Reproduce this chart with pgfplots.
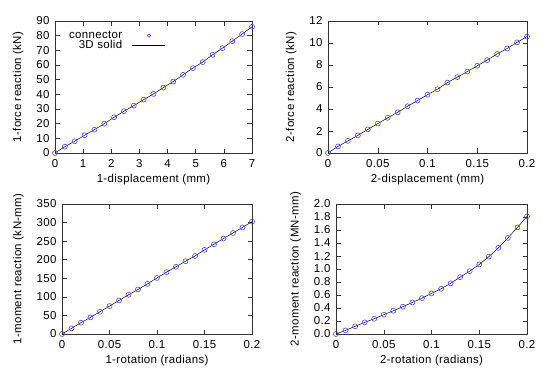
\documentclass[border=0pt]{standalone}
\usepackage{fontspec}
\setmainfont[LetterSpace=3]{Liberation Sans}
\usepackage{pgfplots}
\usepackage{pgfplotstable}
\pgfplotsset{compat=1.18}
\definecolor{mblue}{RGB}{70,70,255}

\pgfplotstableread{
x y
0 0
0.35 4.3
0.7 8.0
1.05 12.1
1.4 15.9
1.75 20.0
2.1 24.4
2.45 28.5
2.8 32.3
3.15 36.4
3.5 40.3
3.85 44.6
4.2 48.7
4.55 53.3
4.9 57.9
5.25 62.0
5.6 67.0
5.95 71.5
6.3 76.3
6.65 81.1
7.0 86.1
}\tabA

\pgfplotstableread{
x y
0 0
0.01 0.6
0.02 1.1
0.03 1.6
0.04 2.15
0.05 2.67
0.06 3.2
0.07 3.7
0.08 4.25
0.09 4.77
0.10 5.3
0.11 5.8
0.12 6.4
0.13 6.9
0.14 7.4
0.15 7.93
0.16 8.45
0.17 9.0
0.18 9.5
0.19 10.06
0.20 10.58
}\tabB

\pgfplotstableread{
x y
0 0
0.01 15.2
0.02 30.4
0.03 44.8
0.04 60.0
0.05 75.2
0.06 90.4
0.07 105.6
0.08 120.0
0.09 135.0
0.10 151.0
0.11 166.5
0.12 181.0
0.13 196.0
0.14 210.0
0.15 226.5
0.16 241.7
0.17 257.0
0.18 272.0
0.19 287.0
0.20 302.6
}\tabC

\pgfplotstableread{
x y
0 0
0.01 0.056
0.02 0.118
0.03 0.179
0.04 0.235
0.05 0.297
0.06 0.358
0.07 0.42
0.08 0.486
0.09 0.552
0.10 0.624
0.11 0.696
0.12 0.78
0.13 0.875
0.14 0.967
0.15 1.07
0.16 1.19
0.17 1.325
0.18 1.478
0.19 1.64
0.20 1.81
}\tabD

\newcommand{\gpfont}{\fontsize{11.5}{13}\selectfont}
\pgfplotsset{
  gp/.style={
    scale only axis,
    axis line style={black!80, line width=0.6bp},
    every tick/.style={black!80, line width=0.5bp},
    major tick length=4.5bp,
    tick align=inside,
    xtick pos=both, ytick pos=both,
    minor tick num=0,
    /pgf/number format/assume math mode=true,
    scaled ticks=false,
    tick label style={font=\gpfont},
    label style={font=\gpfont},
    xticklabel style={/pgf/number format/fixed, yshift=-3bp},
    yticklabel style={/pgf/number format/fixed, xshift=-2bp},
    xlabel style={yshift=0bp},
    ylabel style={yshift=6bp},
  },
  mk/.style={only marks, mark=o, mark size=2.5bp, mark options={draw=mblue, line width=0.6bp}},
  ln/.style={black, line width=0.5bp, no marks},
  mkleg/.style={legend image code/.code={\draw[mark repeat=2,mark phase=2,##1, mark size=1.7bp] plot coordinates {(0bp,0bp) (16.5bp,0bp) (33bp,0bp)};}},
  lnleg/.style={legend image code/.code={\draw[##1] (0bp,0bp) -- (33bp,0bp);}},
}

\begin{document}
\begin{tikzpicture}[x=1bp,y=1bp]
\useasboundingbox (0,0) rectangle (550,391);

% Panel 1
\begin{axis}[gp, at={(55bp,238bp)}, anchor=south west, width=197bp, height=132bp,
  xmin=0, xmax=7, ymin=0, ymax=90,
  xtick={0,1,...,7}, ytick={0,10,...,90},
  xlabel={1-displacement (mm)}, ylabel={1-force reaction (kN)},
  legend style={draw=none, fill=none, at={(rel axis cs:0.563,0.94)}, anchor=north east,
    inner sep=0pt, row sep=-3.5pt, column sep=8bp, font=\gpfont},
  legend cell align=right, legend plot pos=right]
\addplot[mk, mkleg] table {\tabA};
\addlegendentry{connector}
\addplot[ln, lnleg] table {\tabA};
\addlegendentry{3D solid}
\end{axis}

% Panel 2
\begin{axis}[gp, at={(328bp,238bp)}, anchor=south west, width=199bp, height=132bp,
  xmin=0, xmax=0.2, ymin=0, ymax=12,
  xtick={0,0.05,0.1,0.15,0.2}, ytick={0,2,...,12},
  xlabel={2-displacement (mm)}, ylabel={2-force reaction (kN)}]
\addplot[mk] table {\tabB};
\addplot[ln] table {\tabB};
\end{axis}

% Panel 3
\begin{axis}[gp, at={(62bp,57bp)}, anchor=south west, width=190bp, height=130bp,
  xmin=0, xmax=0.2, ymin=0, ymax=350,
  xtick={0,0.05,0.1,0.15,0.2}, ytick={0,50,...,350},
  xlabel={1-rotation (radians)}, ylabel={1-moment reaction (kN-mm)}]
\addplot[mk] table {\tabC};
\addplot[ln] table {\tabC};
\end{axis}

% Panel 4
\begin{axis}[gp, at={(336bp,57bp)}, anchor=south west, width=191bp, height=130bp,
  xmin=0, xmax=0.2, ymin=0, ymax=2,
  xtick={0,0.05,0.1,0.15,0.2}, ytick={0,0.2,...,2.0},
  yticklabel style={/pgf/number format/.cd, fixed, fixed zerofill, precision=1},
  xlabel={2-rotation (radians)}, ylabel={2-moment reaction (MN-mm)}]
\addplot[mk] table {\tabD};
\addplot[ln] table {\tabD};
\end{axis}
\end{tikzpicture}
\end{document}
